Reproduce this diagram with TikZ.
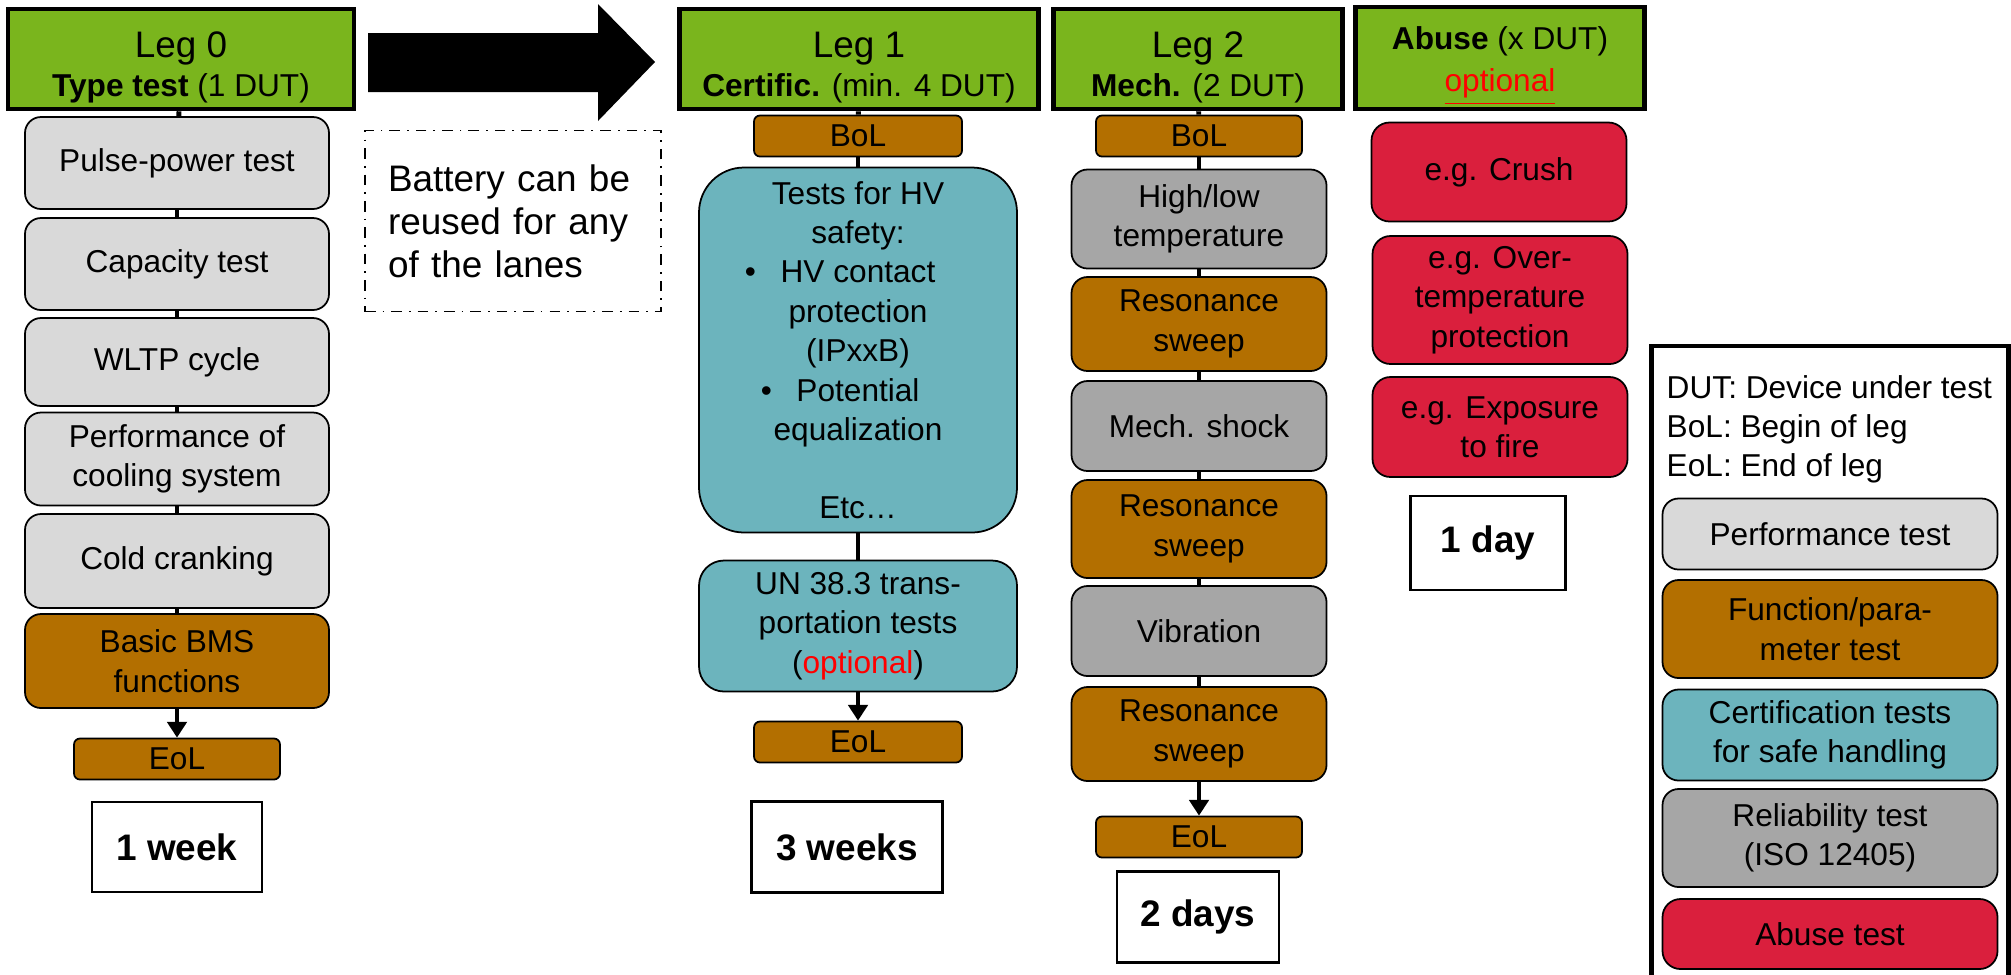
\documentclass[tikz,border=0pt]{standalone}
\usepackage{fontspec}
\setmainfont{Liberation Sans}
\usetikzlibrary{arrows.meta,positioning,shapes}

\definecolor{leggreen}{HTML}{7AB51D}
\definecolor{funcbrown}{HTML}{B36F00}
\definecolor{perfgrey}{HTML}{D9D9D9}
\definecolor{relgrey}{HTML}{A6A6A6}
\definecolor{certteal}{HTML}{6CB4BD}
\definecolor{abusered}{HTML}{DA1F3D}

\tikzset{
  wh/.style 2 args={minimum width=#1mm, minimum height=#2mm},
  base/.style={draw=black, line width=0.5pt, align=center, inner sep=1pt, font=\fontsize{9}{11.2}\selectfont},
  header/.style={base, line width=1.3pt, fill=leggreen},
  perf/.style={base, fill=perfgrey, rounded corners=1.6mm},
  func/.style={base, fill=funcbrown, rounded corners=1.6mm},
  cert/.style={base, fill=certteal, rounded corners=2.5mm},
  rel/.style={base, fill=relgrey, rounded corners=1.6mm},
  abuse/.style={base, fill=abusered, rounded corners=1.8mm},
  tag/.style={base, fill=funcbrown, rounded corners=0.6mm},
  duration/.style={draw=black, line width=0.6pt, fill=white, inner sep=0pt, font=\fontsize{10.5}{12}\selectfont\bfseries},
  note/.style={draw=black, line width=0.5pt, dash dot, align=left, inner xsep=2.3mm, text width=25mm, font=\fontsize{10.5}{12.2}\selectfont},
  link/.style={line width=1.4pt},
  linkarrow/.style={line width=1.4pt, -{Triangle[length=4.5pt,width=5.5pt]}},
}
\newcommand{\legtitle}[1]{\rule{0pt}{12pt}{\fontsize{10.5}{12}\selectfont #1}}

\begin{document}
\begin{tikzpicture}[x=0.1mm,y=-0.1mm]
\fill[white] (0,0) rectangle (2011,974);
\clip (0,0) rectangle (2011,974);

% Leg 0
\node[header, wh={34.6}{10}] (hdr0) at (181,59) {\legtitle{Leg 0}\\\textbf{Type test} (1 DUT)};
\node[perf, wh={30.4}{9.2}] (pulse) at (177,163) {Pulse-power test};
\node[perf, wh={30.4}{9.2}] (cap) at (177,264) {Capacity test};
\node[perf, wh={30.4}{8.8}] (wltp) at (177,362) {WLTP cycle};
\node[perf, wh={30.4}{9.3}] (cool) at (177,459) {Performance of\\cooling system};
\node[perf, wh={30.4}{9.4}] (cold) at (177,561) {Cold cranking};
\node[func, wh={30.4}{9.4}] (bms) at (177,661) {Basic BMS\\functions};
\node[tag, wh={20.6}{4.1}] (eol0) at (177,759) {EoL};
\node[duration, wh={17}{9}] (dur0) at (177,847) {1 week};

% reuse arrow + note
\fill[black] (368,33) -- (598,33) -- (598,4) -- (655,62) -- (598,121) -- (598,92) -- (368,92) -- cycle;
\node[note, minimum height=18.1mm] (reuse) at (513,221) {Battery can be\\reused for any\\of the lanes};

% Leg 1
\node[header, wh={35.9}{10}] (hdr1) at (859,59) {\legtitle{Leg 1}\\\textbf{Certific.} (min. 4 DUT)};
\node[tag, wh={20.8}{4.1}] (bol1) at (858,136) {BoL};
\node[cert, rounded corners=4.5mm, wh={31.8}{36.5}] (hv) at (858,350) {Tests for HV\\safety:\\\llap{\textbullet\hspace{7pt}}HV contact\\protection\\(IPxxB)\\\llap{\textbullet\hspace{7pt}}Potential\\equalization\\[11pt]Etc…};
\node[cert, wh={31.8}{13.1}] (un) at (858,626) {UN 38.3 trans-\\portation tests\\(\textcolor{red}{optional})};
\node[tag, wh={20.8}{4.1}] (eol1) at (858,742) {EoL};
\node[duration, wh={19.1}{9.1}] (dur1) at (847,847) {3 weeks};

% Leg 2
\node[header, wh={28.9}{10}] (hdr2) at (1198,59) {\legtitle{Leg 2}\\\textbf{Mech.} (2 DUT)};
\node[tag, wh={20.6}{4.1}] (bol2) at (1199,136) {BoL};
\node[rel, wh={25.5}{9.9}] (hilo) at (1199,219) {High/low\\temperature};
\node[func, wh={25.5}{9.4}] (res1) at (1199,324) {Resonance\\sweep};
\node[rel, wh={25.5}{9.0}] (shock) at (1199,426) {Mech. shock};
\node[func, wh={25.5}{9.8}] (res2) at (1199,529) {Resonance\\sweep};
\node[rel, wh={25.5}{9.0}] (vib) at (1199,631) {Vibration};
\node[func, wh={25.5}{9.4}] (res3) at (1199,734) {Resonance\\sweep};
\node[tag, wh={20.6}{4.1}] (eol2) at (1199,837) {EoL};
\node[duration, wh={16.2}{9.1}] (dur2) at (1198,917) {2 days};

% Abuse
\node[header, wh={28.9}{10.1}] (hdrA) at (1500,58) {\rule{0pt}{11pt}\textbf{Abuse} (x DUT)\\[1pt]\textcolor{red}{\underline{optional}}};
\node[abuse, wh={25.5}{9.9}] (crush) at (1499,172) {e.g. Crush};
\node[abuse, wh={25.5}{12.8}] (overt) at (1500,300) {e.g. Over-\\temperature\\protection};
\node[abuse, wh={25.5}{10}] (expo) at (1500,427) {e.g. Exposure\\to fire};
\node[duration, wh={15.5}{9.4}] (durA) at (1488,543) {1 day};

% connectors
\foreach \a/\b in {hdr0/pulse, pulse/cap, cap/wltp, wltp/cool, cool/cold, cold/bms,
                   hdr1/bol1, bol1/hv, hv/un,
                   hdr2/bol2, bol2/hilo, hilo/res1, res1/shock, shock/res2, res2/vib, vib/res3}
  \draw[link] (\a) -- (\b);
\foreach \a/\b in {bms/eol0, un/eol1, res3/eol2}
  \draw[linkarrow] (\a) -- (\b);

% legend
\node[draw=black, line width=1.3pt, wh={35.7}{64.4}] (legend) at (1830,668) {};
\node[anchor=west, align=left, inner sep=0pt, font=\fontsize{9}{11.1}\selectfont] (abbr) at (1666,429) {DUT: Device under test\\BoL: Begin of leg\\EoL: End of leg};
\node[perf, wh={33.5}{7.1}] (lperf) at (1830,534) {Performance test};
\node[func, wh={33.5}{9.8}] (lfunc) at (1830,629) {Function/para-\\meter test};
\node[cert, rounded corners=1.6mm, wh={33.5}{9.1}] (lcert) at (1830,735) {Certification tests\\for safe handling};
\node[rel, wh={33.5}{9.8}] (lrel) at (1830,838) {Reliability test\\(ISO 12405)};
\node[abuse, wh={33.5}{7.0}] (labuse) at (1830,934) {Abuse test};
\end{tikzpicture}
\end{document}
